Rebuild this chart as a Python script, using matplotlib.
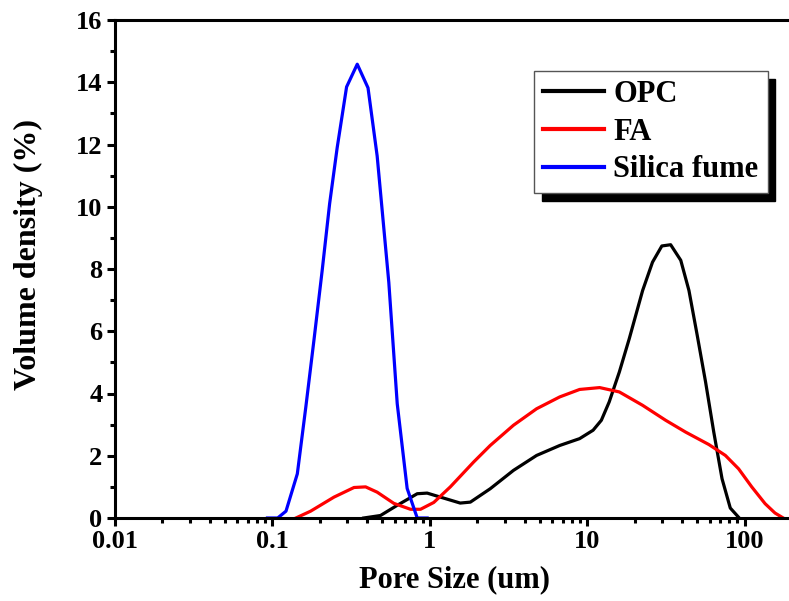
import numpy as np
import matplotlib
matplotlib.use('Agg')
import matplotlib.pyplot as plt
from matplotlib.ticker import FixedLocator, MultipleLocator, LogLocator, NullFormatter, FuncFormatter

plt.rcParams['font.family'] = ['Liberation Serif', 'DejaVu Serif']
plt.rcParams['font.weight'] = 'bold'

# OPC
opc_x = [0.38, 0.486, 0.622, 0.832, 0.962, 1.17, 1.56, 1.81, 2.42, 3.40, 4.77, 6.69, 8.95,
         10.9, 12.3, 13.8, 16.0, 18.5, 22.5, 26.0, 29.8, 33.9, 39.3, 44.3, 50.0, 56.5,
         63.7, 71.9, 81.1, 92.5]
opc_y = [0.0, 0.08, 0.41, 0.78, 0.80, 0.67, 0.48, 0.51, 0.94, 1.53, 2.01, 2.33, 2.55,
         2.82, 3.14, 3.73, 4.69, 5.76, 7.31, 8.22, 8.74, 8.78, 8.28, 7.31, 5.87, 4.37,
         2.76, 1.26, 0.32, 0.0]

# FA
fa_x = [0.141, 0.175, 0.246, 0.330, 0.391, 0.463, 0.591, 0.754, 0.873, 1.06, 1.35, 1.90,
        2.42, 3.40, 4.77, 6.69, 8.95, 12.0, 16.0, 22.5, 31.5, 42.2, 59.3, 75.5, 91.6,
        111, 135, 156, 176]
fa_y = [0.0, 0.22, 0.67, 0.98, 1.0, 0.83, 0.47, 0.28, 0.28, 0.50, 1.0, 1.80,
        2.33, 2.98, 3.51, 3.89, 4.13, 4.19, 4.05, 3.62, 3.14, 2.76, 2.36, 2.01, 1.58,
        1.00, 0.46, 0.16, 0.0]

# Silica fume
sf_x = [0.093, 0.108, 0.122, 0.144, 0.163, 0.184, 0.207, 0.231, 0.258, 0.296, 0.346,
        0.405, 0.463, 0.549, 0.621, 0.718, 0.832, 0.962]
sf_y = [0.0, 0.0, 0.22, 1.42, 3.56, 5.75, 7.94, 10.1, 11.9, 13.85, 14.58,
        13.82, 11.63, 7.57, 3.67, 0.95, 0.0, 0.0]

xticks = [0.01, 0.1, 1, 10, 100]

fig = plt.figure(figsize=(7.89, 6.01), dpi=100)
ax = fig.add_axes((115 / 789, 83 / 601, 787 / 789, 498 / 601))

lw = 2.3
ax.plot(opc_x, opc_y, color='black', lw=lw, label='OPC')
ax.plot(fa_x, fa_y, color='red', lw=lw, label='FA')
ax.plot(sf_x, sf_y, color='blue', lw=lw, label='Silica fume')

ax.set_xscale('log')
ax.set_xlim(0.01, 1000)
ax.set_ylim(0, 16)

ax.xaxis.set_major_locator(FixedLocator(xticks))
ax.xaxis.set_major_formatter(FuncFormatter(lambda v, p: '%g' % v))
ax.xaxis.set_minor_locator(LogLocator(base=10, subs=np.arange(2, 10)))
ax.xaxis.set_minor_formatter(NullFormatter())
ax.yaxis.set_major_locator(MultipleLocator(2))
ax.yaxis.set_minor_locator(MultipleLocator(1))

for s in ['left', 'bottom', 'top']:
    ax.spines[s].set_linewidth(2.2)
ax.spines['right'].set_visible(False)

ax.tick_params(which='major', direction='out', length=6, width=2.2, labelsize=19, pad=3)
ax.tick_params(which='minor', direction='out', length=3.5, width=2.2)
ax.tick_params(top=False, right=False, which='both')

ax.set_xlabel('Pore Size (um)', fontsize=22, fontweight='bold')
ax.xaxis.set_label_coords(0.432, -0.095)
ax.set_ylabel('Volume density (%)', fontsize=23, fontweight='bold')
ax.yaxis.set_label_coords(-0.092, 0.53)

leg = ax.legend(loc='upper left', bbox_to_anchor=(534 / 789, 1 - 71 / 601),
                bbox_transform=fig.transFigure, borderaxespad=0, fancybox=False,
                frameon=True, fontsize=22, handlelength=2.0, handletextpad=0.3,
                labelspacing=0.28, borderpad=0.3,
                shadow={'ox': 5.5, 'oy': -5.5, 'color': 'black', 'alpha': 1})
leg.get_frame().set_edgecolor('#555555')
leg.get_frame().set_linewidth(1.0)
for line in leg.get_lines():
    line.set_linewidth(3)

fig.savefig('out.png', dpi=100)
